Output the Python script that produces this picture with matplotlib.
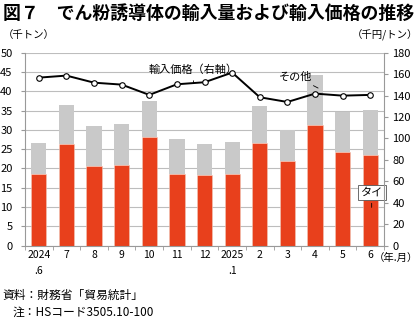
import matplotlib
matplotlib.use("Agg")
import matplotlib.pyplot as plt
import numpy as np

plt.rcParams["font.family"] = ["Noto Sans CJK JP", "DejaVu Sans"]

# data
months = ["2024\n.6", "7", "8", "9", "10", "11", "12", "2025\n.1", "2", "3", "4", "5", "6"]
thai = [18.5, 26.4, 20.6, 20.9, 28.1, 18.5, 18.4, 18.6, 26.7, 21.9, 31.2, 24.2, 23.6]
total = [26.5, 36.4, 31.0, 31.6, 37.6, 27.7, 26.3, 26.9, 36.3, 30.0, 44.3, 34.5, 35.2]
price = [156.7, 158.6, 152.0, 150.2, 140.6, 150.5, 152.4, 161.4, 138.4, 134.0, 141.8, 139.9, 140.6]

other = [t - a for t, a in zip(total, thai)]
x = np.arange(len(months))

RED = "#E8401C"
GRAY = "#C9C9C9"

fig = plt.figure(figsize=(4.2, 3.21), dpi=100)
ax = fig.add_axes([0.0595, 0.2346, 0.855, 0.6014])

ax.set_axisbelow(True)
ax.yaxis.grid(True, color="#BDBDBD", linewidth=0.8)
ax.bar(x, thai, width=0.55, color=RED, edgecolor="#F0C8B8", linewidth=0.4)
ax.bar(x, other, bottom=thai, width=0.55, color=GRAY, linewidth=0)

ax.set_xlim(-0.5, len(months) - 0.5)
ax.set_ylim(0, 50)
ax.set_yticks(range(0, 51, 5))
ax.set_xticks(x)
ax.set_xticklabels(months, fontsize=7.5, linespacing=1.8)
ax.set_xticks(np.arange(-0.5, len(months), 1), minor=True)
ax.tick_params(axis="x", which="major", length=0, pad=3)
ax.tick_params(axis="x", which="minor", length=3, color="#999999")
ax.tick_params(axis="y", labelsize=8, length=3, color="#999999", pad=6)
for s in ["top", "right"]:
    ax.spines[s].set_visible(False)
for s in ["left", "bottom"]:
    ax.spines[s].set_color("#999999")

ax2 = ax.twinx()
ax2.plot(x, price, color="black", linewidth=1.4, marker="o", markersize=4,
         markerfacecolor="white", markeredgecolor="black", markeredgewidth=0.8)
ax2.set_ylim(0, 180)
ax2.set_yticks(range(0, 181, 20))
ax2.tick_params(axis="y", labelsize=8, length=3, color="#999999", pad=3)
for s in ["top", "left", "bottom"]:
    ax2.spines[s].set_visible(False)
ax2.spines["right"].set_color("#999999")

# annotations
ax2.annotate("輸入価格（右軸）", xy=(5.6, 151.5), xytext=(5.6, 159),
             ha="center", va="bottom", fontsize=8,
             arrowprops=dict(arrowstyle="-", color="black", lw=0.6))
ax.annotate("その他", xy=(10.2, 40.5), xytext=(9.3, 42.5),
            ha="center", va="bottom", fontsize=8,
            arrowprops=dict(arrowstyle="-", color="black", lw=0.6))
ax.annotate("タイ", xy=(12.05, 9.2), xytext=(12.05, 12.5),
            ha="center", va="bottom", fontsize=8,
            bbox=dict(boxstyle="square,pad=0.25", fc="white", ec="#555555", lw=0.6),
            arrowprops=dict(arrowstyle="-", color="black", lw=0.6))

fig.text(0.007, 0.985, "図７　でん粉誘導体の輸入量および輸入価格の推移",
         fontsize=12.9, fontweight="bold", va="top", ha="left")
fig.text(0.007, 0.89, "（千トン）", fontsize=7.5, va="center", ha="left")
fig.text(0.995, 0.89, "（千円/トン）", fontsize=7.5, va="center", ha="right")
fig.text(0.995, 0.196, "（年.月）", fontsize=7.5, va="center", ha="right")
fig.text(0.007, 0.081, "資料：財務省「貿易統計」", fontsize=8.5, va="center", ha="left")
fig.text(0.03, 0.028, "注：HSコード3505.10-100", fontsize=8.5, va="center", ha="left")

fig.savefig("out.png", dpi=100)
